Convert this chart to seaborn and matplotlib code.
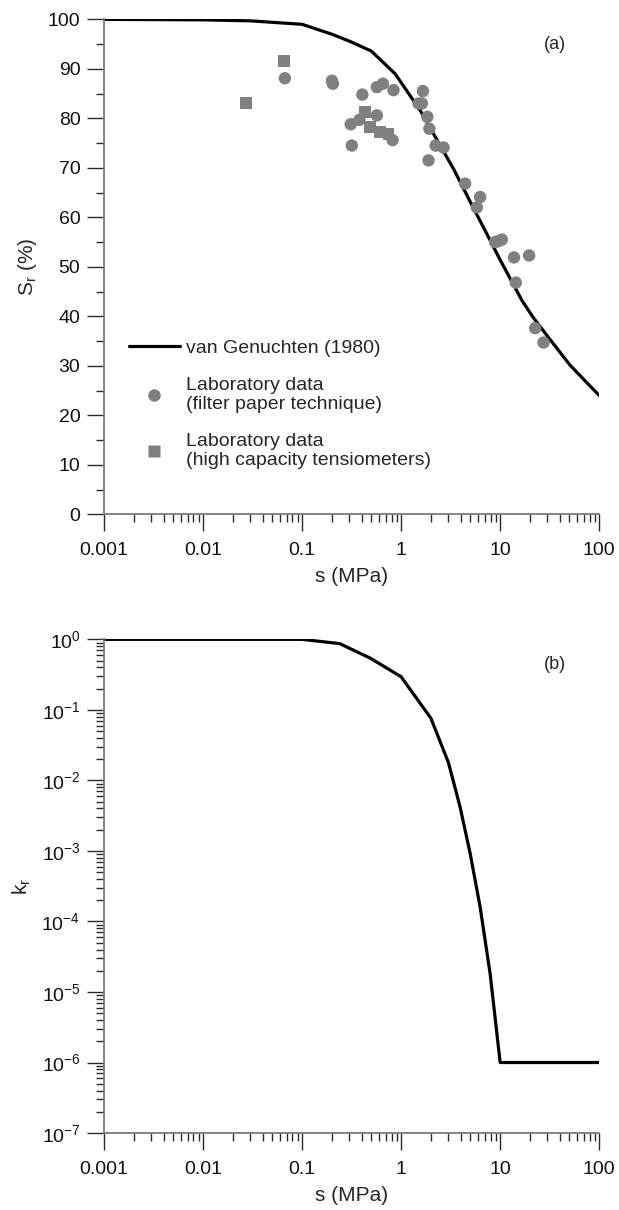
import numpy as np
import pandas as pd
import matplotlib
matplotlib.use("Agg")
import matplotlib.pyplot as plt
from matplotlib.ticker import LogLocator, FuncFormatter, MultipleLocator, NullFormatter
from matplotlib.lines import Line2D
import seaborn as sns

# === data ===
# van Genuchten (1980) retention curve, panel (a)
vg_s = [0.001, 0.01, 0.03, 0.1, 0.2, 0.3, 0.5, 0.87, 1.56, 2, 2.65, 3.38,
        5, 7.9, 10, 16.6, 21.5, 30, 50.9, 100]
vg_sr = [100, 99.9, 99.7, 99, 97, 95.6, 93.6, 89, 81.6, 77.8, 73.5, 69.8,
         63.1, 55.4, 51.4, 43.2, 39.8, 36.0, 30.1, 24]

# laboratory data, filter paper technique
fp_s = [0.067, 0.20, 0.205, 0.31, 0.318, 0.38, 0.406, 0.569, 0.569, 0.654,
        0.82, 0.837, 1.50, 1.62, 1.66, 1.84, 1.89, 1.93, 2.23, 2.68, 4.43,
        5.81, 6.28, 8.9, 9.6, 10.4, 13.8, 14.4, 19.6, 22.6, 27.4]
fp_sr = [88.1, 87.6, 87.0, 78.8, 74.5, 79.7, 84.8, 86.3, 80.6, 87.0,
         75.6, 85.7, 83.0, 83.0, 85.5, 80.3, 71.5, 77.9, 74.5, 74.1, 66.8,
         62.0, 64.1, 55.0, 55.2, 55.5, 51.9, 46.8, 52.3, 37.6, 34.7]

# laboratory data, high capacity tensiometers
hct_s = [0.0274, 0.066, 0.433, 0.486, 0.614, 0.745]
hct_sr = [83.1, 91.6, 81.3, 78.2, 77.2, 76.8]

# relative permeability, panel (b)
kr_s = [0.001, 0.1, 0.24, 0.49, 1, 2, 3, 3.94, 4.98, 6.28, 7.93, 10, 100]
kr = [1, 1, 0.87, 0.54, 0.295, 0.076, 0.018, 4.2e-3, 9.2e-4, 1.6e-4,
      1.8e-5, 1e-6, 1e-6]

X_TICKS = [0.001, 0.01, 0.1, 1, 10, 100]

sns.set_style("ticks")
plt.rcParams["font.family"] = ["Liberation Sans", "DejaVu Sans"]
plt.rcParams["mathtext.fontset"] = "custom"
plt.rcParams["mathtext.rm"] = "Liberation Sans"
plt.rcParams["mathtext.it"] = "Liberation Sans:italic"

GRAY = "#808080"
SPINE = "#7a7a7a"
TICK = "#2a2a2a"
FS = 14


def style_axis(ax):
    sns.despine(ax=ax)
    for side in ["left", "bottom"]:
        ax.spines[side].set_color(SPINE)
        ax.spines[side].set_linewidth(1.3)
    ax.tick_params(which="major", length=12, width=1.0, color=TICK,
                   labelsize=FS, labelcolor="#111111", direction="out", pad=5)
    ax.tick_params(axis="x", which="major", pad=8)
    ax.tick_params(which="minor", length=5.5, width=1.0, color=TICK,
                   direction="out")
    ax.set_xscale("log")
    ax.set_xlim(0.001, 100)
    ax.xaxis.set_minor_locator(LogLocator(base=10, subs=np.arange(2, 10), numticks=20))
    ax.xaxis.set_minor_formatter(NullFormatter())
    ax.set_xticks(X_TICKS)
    ax.xaxis.set_major_formatter(FuncFormatter(lambda v, p: f"{v:g}"))
    ax.set_xlabel("s (MPa)", fontsize=FS + 1, labelpad=6)


fig = plt.figure(figsize=(6.19, 12.10), dpi=100)

# === (a) retention curve ===
ax1 = fig.add_axes([0.168, 0.575, 0.80, 0.409])
curve = pd.DataFrame({"s": vg_s, "sr": vg_sr})
sns.lineplot(data=curve, x="s", y="sr", ax=ax1, color="black", lw=2.3,
             estimator=None, sort=False)
sns.scatterplot(x=fp_s, y=fp_sr, ax=ax1, marker="o", s=80, color=GRAY,
                edgecolor="none", zorder=3)
sns.scatterplot(x=hct_s, y=hct_sr, ax=ax1, marker="s", s=72, color=GRAY,
                edgecolor="none", zorder=3)
style_axis(ax1)
ax1.set_ylim(0, 100)
ax1.yaxis.set_major_locator(MultipleLocator(10))
ax1.yaxis.set_minor_locator(MultipleLocator(5))
ax1.set_ylabel("S$_\\mathrm{r}$ (%)", fontsize=FS + 1, labelpad=6)
ax1.text(0.91, 0.95, "(a)", transform=ax1.transAxes, fontsize=FS - 1,
         ha="center", va="center")

handles = [
    Line2D([], [], color="black", lw=2.3),
    Line2D([], [], ls="none", marker="o", ms=9, color=GRAY, mec="none"),
    Line2D([], [], ls="none", marker="s", ms=8.5, color=GRAY, mec="none"),
]
labels = ["van Genuchten (1980)",
          "Laboratory data\n(filter paper technique)",
          "Laboratory data\n(high capacity tensiometers)"]
ax1.legend(handles, labels, loc="lower left", bbox_to_anchor=(0.035, 0.075),
           frameon=False, fontsize=FS, handlelength=2.6, handletextpad=0.35,
           labelspacing=1.0, borderaxespad=0)

# === (b) relative permeability ===
ax2 = fig.add_axes([0.168, 0.0636, 0.80, 0.408])
perm = pd.DataFrame({"s": kr_s, "kr": kr})
sns.lineplot(data=perm, x="s", y="kr", ax=ax2, color="black", lw=2.3,
             estimator=None, sort=False)
style_axis(ax2)
ax2.set_yscale("log")
ax2.set_ylim(1e-7, 1)
ax2.yaxis.set_major_locator(LogLocator(base=10, numticks=12))
ax2.yaxis.set_minor_locator(LogLocator(base=10, subs=np.arange(2, 10), numticks=30))
ax2.yaxis.set_minor_formatter(NullFormatter())
ax2.set_ylabel("k$_\\mathrm{r}$", fontsize=FS + 1, labelpad=6)
ax2.text(0.91, 0.95, "(b)", transform=ax2.transAxes, fontsize=FS - 1,
         ha="center", va="center")

fig.savefig("out.png", dpi=100)
